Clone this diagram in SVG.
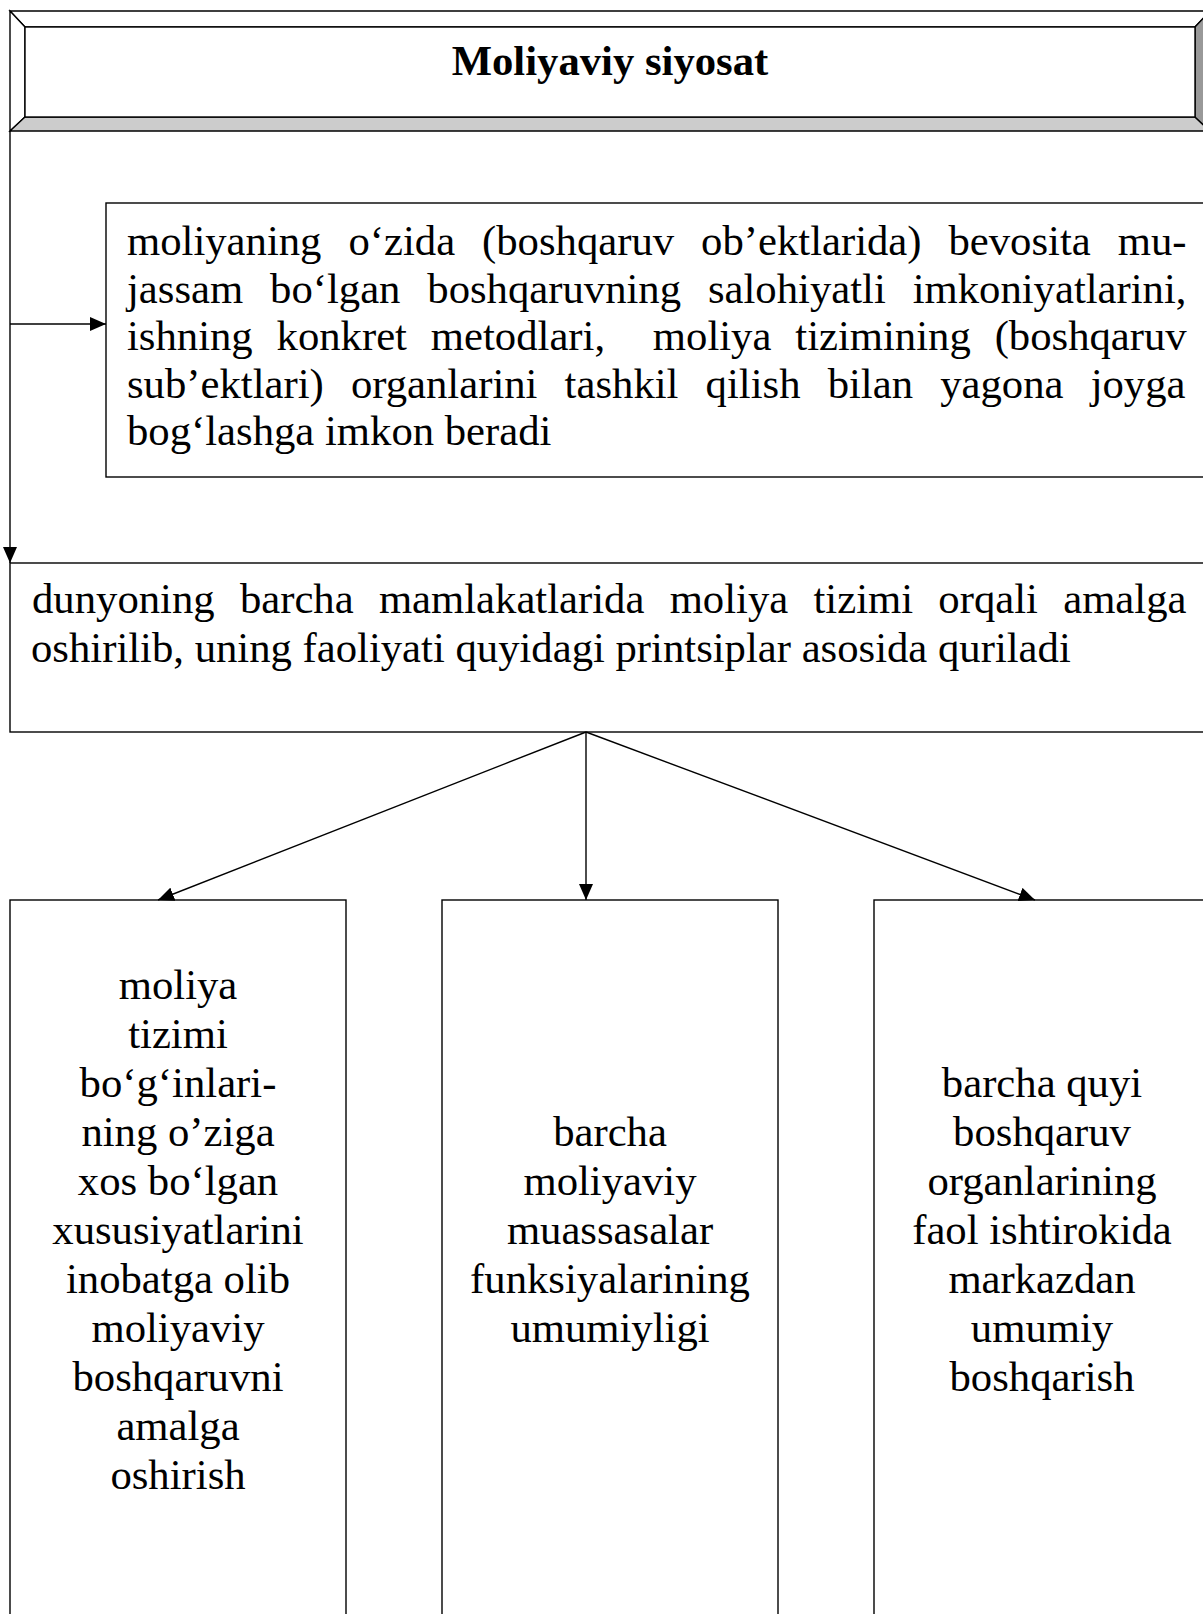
<svg xmlns="http://www.w3.org/2000/svg" width="1203" height="1614" viewBox="0 0 1203 1614">
<style>
.t{font-family:"Liberation Serif","Times New Roman",serif;font-size:42.7px;fill:#000}
.c{text-anchor:middle}
.b{font-weight:bold}
.box{fill:#fff;stroke:#000;stroke-width:1.4}
.ln{fill:none;stroke:#000;stroke-width:1.4}
.bv{stroke:#000;stroke-width:1.4;stroke-linejoin:miter}
</style>
<defs>
<marker id="ah" markerWidth="16" markerHeight="14" refX="16" refY="7" orient="auto" markerUnits="userSpaceOnUse">
<path d="M0,0 L16,7 L0,14 z" fill="#000"/>
</marker>
</defs>
<rect width="1203" height="1614" fill="#fff"/>

<g id="title">
<polygon class="bv" fill="#fff" points="10,11 1210,11 1195,27 25,27"/>
<polygon class="bv" fill="#fff" points="10,11 25,27 25,117 10,131"/>
<polygon class="bv" fill="#ccc" points="25,117 1195,117 1210,131 10,131"/>
<polygon class="bv" fill="#999" points="1195,27 1210,11 1210,131 1195,117"/>
<rect class="box" x="25" y="27" width="1170" height="90"/>
<text class="t c b" x="610" y="75">Moliyaviy siyosat</text>
</g>

<g id="n1">
<rect class="box" x="106" y="203" width="1104" height="274"/>
<text class="t" x="127" y="255" word-spacing="16.3">moliyaning o‘zida (boshqaruv ob’ektlarida) bevosita mu-</text>
<text class="t" x="127" y="302.5" word-spacing="16.2">jassam bo‘lgan boshqaruvning salohiyatli imkoniyatlarini,</text>
<text class="t" x="127" y="350" word-spacing="13.2" xml:space="preserve">ishning konkret metodlari,  moliya tizimining (boshqaruv</text>
<text class="t" x="127" y="397.5" word-spacing="16.5">sub’ektlari) organlarini tashkil qilish bilan yagona joyga</text>
<text class="t" x="127" y="445">bog‘lashga imkon beradi</text>
</g>

<g id="n2">
<rect class="box" x="10" y="563" width="1200" height="169"/>
<text class="t" x="32" y="613" word-spacing="14.6">dunyoning barcha mamlakatlarida moliya tizimi orqali amalga</text>
<text class="t" x="31" y="662">oshirilib, uning faoliyati quyidagi printsiplar asosida quriladi</text>
</g>

<g id="n3">
<rect class="box" x="10" y="900" width="336" height="730"/>
<text class="t c" x="178" y="999">moliya</text>
<text class="t c" x="178" y="1048">tizimi</text>
<text class="t c" x="178" y="1097">bo‘g‘inlari-</text>
<text class="t c" x="178" y="1146">ning o’ziga</text>
<text class="t c" x="178" y="1195">xos bo‘lgan</text>
<text class="t c" x="178" y="1244">xususiyatlarini</text>
<text class="t c" x="178" y="1293">inobatga olib</text>
<text class="t c" x="178" y="1342">moliyaviy</text>
<text class="t c" x="178" y="1391">boshqaruvni</text>
<text class="t c" x="178" y="1440">amalga</text>
<text class="t c" x="178" y="1489">oshirish</text>
</g>

<g id="n4">
<rect class="box" x="442" y="900" width="336" height="730"/>
<text class="t c" x="610" y="1146">barcha</text>
<text class="t c" x="610" y="1195">moliyaviy</text>
<text class="t c" x="610" y="1244">muassasalar</text>
<text class="t c" x="610" y="1293">funksiyalarining</text>
<text class="t c" x="610" y="1342">umumiyligi</text>
</g>

<g id="n5">
<rect class="box" x="874" y="900" width="336" height="730"/>
<text class="t c" x="1042" y="1097">barcha quyi</text>
<text class="t c" x="1042" y="1146">boshqaruv</text>
<text class="t c" x="1042" y="1195">organlarining</text>
<text class="t c" x="1042" y="1244">faol ishtirokida</text>
<text class="t c" x="1042" y="1293">markazdan</text>
<text class="t c" x="1042" y="1342">umumiy</text>
<text class="t c" x="1042" y="1391">boshqarish</text>
</g>

<g id="connectors">
<line class="ln" x1="10" y1="131" x2="10" y2="563" marker-end="url(#ah)"/>
<line class="ln" x1="10" y1="324" x2="106" y2="324" marker-end="url(#ah)"/>
<line class="ln" x1="586" y1="732" x2="158" y2="900" marker-end="url(#ah)"/>
<line class="ln" x1="586" y1="732" x2="586" y2="900" marker-end="url(#ah)"/>
<line class="ln" x1="586" y1="732" x2="1035" y2="900" marker-end="url(#ah)"/>
</g>
</svg>
